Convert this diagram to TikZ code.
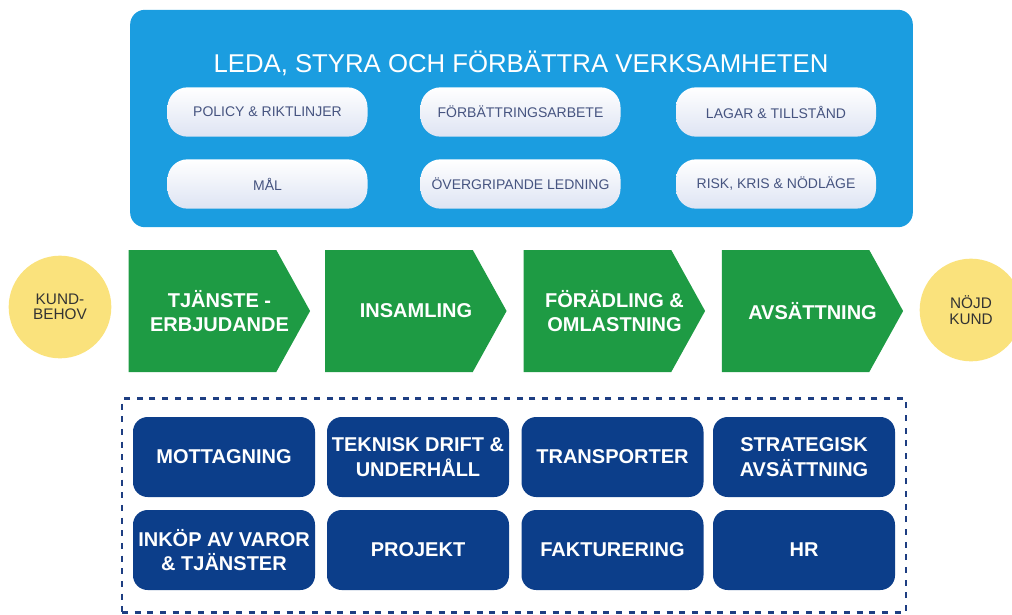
\documentclass[tikz,border=0pt]{standalone}
\usepackage{fontspec}
\setmainfont{Liberation Sans}
\usepackage{xcolor}
\usetikzlibrary{shapes.symbols}
\definecolor{leadblue}{RGB}{27,157,224}
\definecolor{pillshade}{RGB}{222,228,243}
\definecolor{pilltext}{RGB}{70,84,128}
\definecolor{flowgreen}{RGB}{30,155,68}
\definecolor{custyellow}{RGB}{250,226,124}
\definecolor{supportblue}{RGB}{12,62,138}
\definecolor{dashblue}{RGB}{30,62,130}

\begin{document}
\begin{tikzpicture}[x=0.75pt,y=-0.75pt,
    leadbox/.style={rectangle,rounded corners=11pt,fill=leadblue,minimum width=587pt,minimum height=163pt},
    pill/.style={rectangle,rounded corners=15pt,top color=white,bottom color=pillshade,minimum width=150pt,minimum height=37pt,text=pilltext,font=\fontsize{10.5}{12}\selectfont},
    flow/.style={signal,signal to=east,signal pointer angle=122,fill=flowgreen,minimum width=136pt,minimum height=91.5pt,inner sep=0pt},
    flowtext/.style={text=white,align=center,inner sep=0pt,font=\bfseries\fontsize{15}{17.5}\selectfont},
    customer/.style={circle,fill=custyellow,minimum size=77pt,inner sep=0pt,align=center,text=black!80,font=\fontsize{11.5}{11.5}\selectfont},
    support/.style={rectangle,rounded corners=11pt,fill=supportblue,minimum width=136.5pt,minimum height=60pt,inner sep=0pt,text=white,align=center,font=\bfseries\fontsize{15}{18.5}\selectfont}]
        \useasboundingbox (0,0) rectangle (1012,614);

        % Leda och styra
        \node[leadbox] (lead) at (521.5,118.5) {};
        \node[anchor=base,text=white,font=\fontsize{19.3}{23}\selectfont] (title) at (521,72) {LEDA, STYRA OCH FÖRBÄTTRA VERKSAMHETEN};
        \node[pill] (policy) at (267.5,112) {POLICY \& RIKTLINJER};
        \node[pill] (improve) at (520.5,112) {FÖRBÄTTRINGSARBETE};
        \node[pill] (laws) at (776,112) {LAGAR \& TILLSTÅND};
        \node[pill] (goals) at (267.5,184) {MÅL};
        \node[pill] (overall) at (520.5,184) {ÖVERGRIPANDE LEDNING};
        \node[pill] (risk) at (776,184) {RISK, KRIS \& NÖDLÄGE};

        % Kundflöde
        \node[customer] (need) at (60,307) {KUND-\\BEHOV};
        \foreach \i/\x in {1/202.5,2/399,3/597.5,4/795.5} {
            \node[flow] (flow\i) at (\x,311) {};
        }
        \node[flowtext] (offer) at (219.5,311) {TJÄNSTE -\\ERBJUDANDE};
        \node[flowtext] (collect) at (416,311) {INSAMLING};
        \node[flowtext] (refine) at (614.5,311) {FÖRÄDLING \&\\OMLASTNING};
        \node[flowtext] (sales) at (812.5,311) {AVSÄTTNING};
        \node[customer] (happy) at (971,310) {NÖJD\\KUND};

        % Stödprocesser
        \node[draw=dashblue,line width=2.2pt,dash pattern=on 4.5pt off 5pt,minimum width=588pt,minimum height=160pt] (frame) at (514,505.5) {};
        \node[support] (reception) at (224,457) {MOTTAGNING};
        \node[support] (upkeep) at (418,457) {TEKNISK DRIFT \&\\UNDERHÅLL};
        \node[support] (transport) at (612.5,457) {TRANSPORTER};
        \node[support] (strategic) at (804,457) {STRATEGISK\\AVSÄTTNING};
        \node[support] (purchase) at (224,550) {INKÖP AV VAROR\\\& TJÄNSTER};
        \node[support] (project) at (418,550) {PROJEKT};
        \node[support] (invoice) at (612.5,550) {FAKTURERING};
        \node[support] (hr) at (804,550) {HR};
    \end{tikzpicture}
\end{document}
